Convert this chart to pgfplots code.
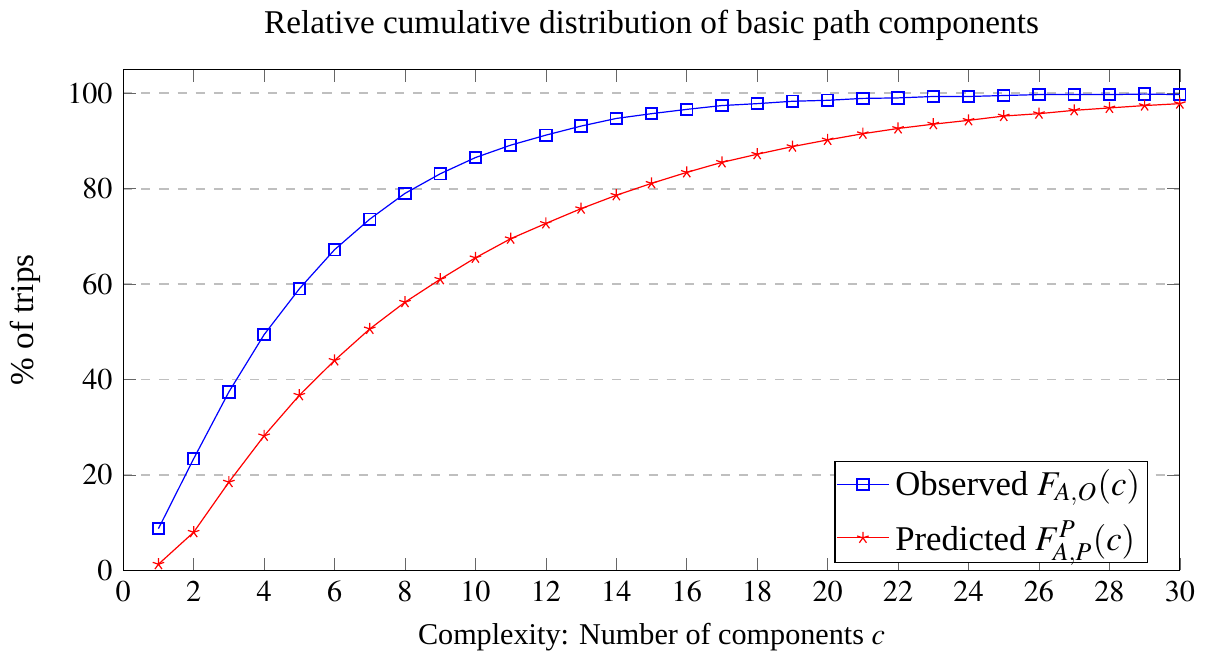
\documentclass[border=0pt]{standalone}
\usepackage{mathptmx}
\usepackage{fontspec}
\setmainfont{Liberation Serif}
\usepackage{pgfplots}
\pgfplotsset{compat=1.18}
\begin{document}
\begin{tikzpicture}
\begin{axis}[
  scale only axis,
  width=350pt, height=166pt,
  xmin=0, xmax=30, ymin=0, ymax=105,
  xtick={0,2,...,30},
  ytick={0,20,...,100},
  ymajorgrids,
  major grid style={dashed, gray!50, line width=0.6pt},
  tick style={gray!80!black},
  title={Relative cumulative distribution of basic path components},
  title style={font=\fontsize{11}{13}\selectfont},
  xlabel={Complexity: Number of components $c$},
  ylabel={\% of trips},
  ylabel shift=2pt,
  ylabel style={font=\fontsize{11}{13}\selectfont},
  legend style={at={(0.97,0.015)}, anchor=south east, draw=black, font=\fontsize{11.5}{13.5}\selectfont, inner sep=0.5pt, row sep=3pt},
  legend cell align=left,
]
\addplot[blue, mark=square, mark size=1.9pt, mark options={solid, line width=0.6pt}] coordinates {
(1,8.75) (2,23.4) (3,37.4) (4,49.4) (5,59.0) (6,67.2) (7,73.6) (8,79.0) (9,83.1) (10,86.5)
(11,89.1) (12,91.2) (13,93.1) (14,94.7) (15,95.7) (16,96.6) (17,97.4) (18,97.8) (19,98.3) (20,98.5)
(21,98.9) (22,99.0) (23,99.3) (24,99.3) (25,99.5) (26,99.7) (27,99.7) (28,99.7) (29,99.8) (30,99.7)
};
\addlegendentry{Observed $F_{A,O}(c)$}
\addplot[red, mark=star, mark size=2pt] coordinates {
(1,1.3) (2,8.0) (3,18.5) (4,28.2) (5,36.7) (6,44.0) (7,50.6) (8,56.2) (9,61.0) (10,65.5)
(11,69.5) (12,72.7) (13,75.8) (14,78.6) (15,81.1) (16,83.4) (17,85.5) (18,87.2) (19,88.8) (20,90.2)
(21,91.5) (22,92.6) (23,93.5) (24,94.3) (25,95.2) (26,95.7) (27,96.4) (28,96.9) (29,97.4) (30,97.8)
};
\addlegendentry{Predicted $F^{P}_{A,P}(c)$}
\end{axis}
\end{tikzpicture}
\end{document}
